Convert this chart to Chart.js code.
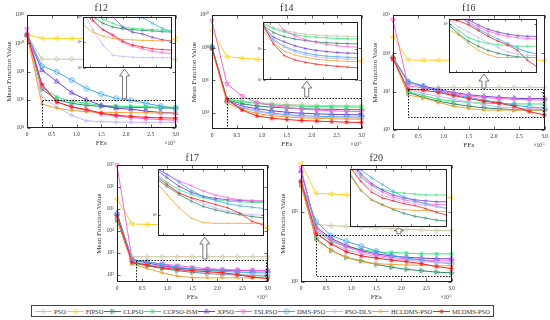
<!DOCTYPE html>
<html>
<head>
<meta charset="utf-8">
<script src="https://cdn.jsdelivr.net/npm/chart.js@4.4.0/dist/chart.umd.min.js"></script>
<style>
  html, body { margin: 0; padding: 0; background: #fff; }
  body { width: 550px; height: 320px; position: relative; overflow: hidden; font-family: "Liberation Serif", serif; }
  canvas { position: absolute; }
  #legend { position: absolute; left: 31px; top: 305px; width: 463px; height: 12px; border: 1px solid #444;
            box-sizing: border-box; display: flex; align-items: center; justify-content: space-between;
            padding: 0 3px; background: #fff; font-size: 6.5px; color: #333; }
  #legend span.item { display: flex; align-items: center; white-space: nowrap; }
  #legend canvas { position: static; margin-right: 2px; }
</style>
</head>
<body>
<div id="legend"></div>
<script>
// FEs axis (x 10^5)
const fes = [0, 0.3, 0.6, 0.9, 1.2, 1.5, 1.8, 2.1, 2.4, 2.7, 3.0];
const algorithms = ['PSO', 'FIPSO', 'CLPSO', 'CCPSO-ISM', 'XPSO', 'TSLPSO', 'DMS-PSO', 'PSO-DLS', 'HCLDMS-PSO', 'MLDMS-PSO'];
const colors = ['#c9c5a3', '#ffd21f', '#2e8b66', '#36e87a', '#6f3fd9', '#ff63dc', '#42a7f0', '#c5b7f7', '#f5a030', '#ff2020'];
const markers = ['diamond', 'triLeft', 'triRight', 'asterisk', 'triUp', 'triDown', 'circle', 'plus', 'dot', 'star'];

// log10 of the mean function value, one row per algorithm (same order as above)
const f12 = [
  [10.6, 8.88, 8.87, 8.87, 8.86, 8.86, 8.86, 8.85, 8.85, 8.85, 8.85],
  [10.6, 10.35, 10.34, 10.33, 10.32, 10.31, 10.3, 10.3, 10.3, 10.29, 10.29],
  [10.6, 6.75, 6.0, 5.75, 5.6, 5.53, 5.5, 5.47, 5.45, 5.42, 5.4],
  [10.6, 6.9, 6.2, 5.9, 5.75, 5.6, 5.55, 5.52, 5.5, 5.48, 5.47],
  [10.6, 8.1, 7.3, 6.5, 6.0, 5.6, 5.4, 5.33, 5.2, 5.1, 5.05],
  [11.0, 7.0, 5.85, 5.5, 5.25, 5.0, 4.85, 4.75, 4.65, 4.6, 4.55],
  [10.6, 8.4, 7.97, 7.4, 6.8, 6.4, 6.1, 5.97, 5.75, 5.55, 5.4],
  [10.6, 6.2, 5.5, 4.9, 4.5, 4.45, 4.42, 4.41, 4.4, 4.4, 4.4],
  [10.6, 5.7, 5.4, 5.25, 5.15, 5.12, 5.1, 5.08, 5.07, 5.06, 5.05],
  [10.6, 7.1, 5.85, 5.5, 5.3, 5.05, 4.9, 4.82, 4.75, 4.72, 4.7]
];
const f14 = [
  [8.0, 4.85, 4.72, 4.62, 4.55, 4.5, 4.47, 4.45, 4.44, 4.43, 4.42],
  [9.04, 7.44, 7.35, 7.28, 7.25, 7.23, 7.21, 7.2, 7.19, 7.18, 7.18],
  [8.0, 4.78, 4.55, 4.42, 4.34, 4.29, 4.25, 4.22, 4.2, 4.19, 4.18],
  [8.0, 4.82, 4.68, 4.57, 4.48, 4.43, 4.4, 4.38, 4.36, 4.35, 4.34],
  [8.05, 4.75, 4.4, 4.25, 4.12, 4.03, 3.97, 3.93, 3.9, 3.88, 3.87],
  [9.65, 5.77, 5.03, 4.62, 4.45, 4.32, 4.23, 4.16, 4.12, 4.09, 4.07],
  [8.05, 4.7, 4.3, 4.1, 3.97, 3.88, 3.82, 3.78, 3.76, 3.74, 3.73],
  [8.0, 4.72, 4.35, 4.08, 3.92, 3.82, 3.76, 3.72, 3.7, 3.68, 3.67],
  [7.95, 4.6, 4.2, 3.95, 3.82, 3.74, 3.68, 3.65, 3.63, 3.61, 3.6],
  [7.95, 4.83, 4.17, 3.8, 3.66, 3.58, 3.52, 3.48, 3.45, 3.42, 3.4]
];
const f16 = [
  [3.87, 3.2, 3.12, 3.11, 3.11, 3.11, 3.11, 3.11, 3.11, 3.11, 3.11],
  [4.43, 3.83, 3.82, 3.82, 3.82, 3.82, 3.82, 3.82, 3.82, 3.82, 3.82],
  [3.85, 2.98, 2.85, 2.75, 2.68, 2.62, 2.58, 2.55, 2.53, 2.52, 2.52],
  [3.88, 3.0, 2.9, 2.8, 2.75, 2.72, 2.7, 2.69, 2.68, 2.68, 2.68],
  [3.9, 3.26, 3.15, 3.05, 2.98, 2.92, 2.88, 2.85, 2.83, 2.82, 2.82],
  [4.87, 3.15, 3.1, 3.02, 2.95, 2.89, 2.85, 2.82, 2.8, 2.79, 2.78],
  [3.88, 3.26, 3.13, 3.0, 2.92, 2.85, 2.78, 2.72, 2.65, 2.6, 2.57],
  [3.85, 3.05, 2.95, 2.88, 2.8, 2.73, 2.66, 2.6, 2.57, 2.55, 2.55],
  [3.93, 2.91, 2.84, 2.72, 2.62, 2.56, 2.52, 2.52, 2.52, 2.52, 2.52],
  [3.86, 3.06, 3.04, 2.98, 2.9, 2.82, 2.75, 2.7, 2.62, 2.48, 2.39]
];
const f17 = [
  [4.6, 2.83, 2.83, 2.83, 2.83, 2.83, 2.83, 2.83, 2.83, 2.83, 2.83],
  [5.45, 4.32, 4.3, 4.28, 4.25, 4.22, 4.2, 4.18, 4.17, 4.16, 4.15],
  [4.5, 2.55, 2.42, 2.3, 2.2, 2.12, 2.07, 2.03, 2.0, 1.97, 1.95],
  [4.55, 2.62, 2.48, 2.37, 2.3, 2.25, 2.22, 2.2, 2.19, 2.18, 2.18],
  [4.82, 2.68, 2.55, 2.42, 2.33, 2.27, 2.24, 2.22, 2.21, 2.2, 2.2],
  [7.0, 2.7, 2.6, 2.5, 2.43, 2.35, 2.29, 2.25, 2.22, 2.21, 2.2],
  [4.75, 2.7, 2.6, 2.48, 2.36, 2.27, 2.21, 2.16, 2.13, 2.11, 2.09],
  [4.6, 2.62, 2.45, 2.33, 2.24, 2.16, 2.1, 2.05, 2.02, 2.0, 1.99],
  [4.65, 2.5, 2.3, 2.1, 1.95, 1.88, 1.87, 1.87, 1.87, 1.87, 1.87],
  [4.68, 2.58, 2.45, 2.32, 2.25, 2.2, 2.15, 2.1, 2.02, 1.9, 1.84]
];
const f20 = [
  [3.42, 2.82, 2.8, 2.79, 2.78, 2.77, 2.76, 2.75, 2.74, 2.73, 2.73],
  [3.69, 3.26, 3.25, 3.24, 3.23, 3.22, 3.22, 3.21, 3.21, 3.2, 3.2],
  [3.38, 2.62, 2.45, 2.35, 2.3, 2.25, 2.21, 2.18, 2.16, 2.14, 2.13],
  [3.4, 2.72, 2.58, 2.5, 2.46, 2.43, 2.42, 2.41, 2.4, 2.4, 2.4],
  [3.58, 2.78, 2.62, 2.52, 2.45, 2.4, 2.37, 2.35, 2.34, 2.33, 2.33],
  [3.62, 2.75, 2.6, 2.5, 2.43, 2.38, 2.35, 2.33, 2.31, 2.3, 2.3],
  [3.43, 2.86, 2.66, 2.58, 2.51, 2.44, 2.38, 2.34, 2.31, 2.28, 2.26],
  [3.45, 2.7, 2.55, 2.46, 2.4, 2.36, 2.33, 2.31, 2.29, 2.28, 2.27],
  [3.38, 2.6, 2.45, 2.35, 2.29, 2.26, 2.25, 2.24, 2.24, 2.23, 2.23],
  [3.43, 2.69, 2.54, 2.43, 2.37, 2.34, 2.31, 2.29, 2.26, 2.22, 2.19]
];

// y tick labels (powers of ten) per panel
const f12Ticks = [1e4, 1e6, 1e8, 1e10, 1e12];
const f14Ticks = [1e4, 1e6, 1e8, 1e10];
const f16Ticks = [1e2, 1e3, 1e4, 1e5];
const f17Ticks = [1e2, 1e3, 1e4, 1e5, 1e6, 1e7];
const f20Ticks = [1e2, 1e3];

// layout: plot box and inset box in page pixels [left, top, right, bottom]
const panels = [
  { name: 'f12', rows: f12, yTicks: f12Ticks, yRange: [1e4, 1e12], zoomX: [0.3, 3], zoomY: [1e4, 1e6], arrowX: 1.97, box: [27, 15, 176, 128], inset: [83, 15, 175, 68] },
  { name: 'f14', rows: f14, yTicks: f14Ticks, yRange: [1e3, 1e10], zoomX: [0.3, 3], zoomY: [1e3, 8e4], arrowX: 1.9, box: [212, 15, 362, 129], inset: [263, 20, 361, 80] },
  { name: 'f16', rows: f16, yTicks: f16Ticks, yRange: [1e2, 1e5], zoomX: [0.3, 3], zoomY: [200, 1170], arrowX: 1.8, box: [393, 15, 545, 130], inset: [449, 17, 540, 73] },
  { name: 'f17', rows: f17, yTicks: f17Ticks, yRange: [48, 1e7], zoomX: [0.38, 3], zoomY: [48, 480], arrowX: 1.75, box: [117, 165, 268, 282], inset: [158, 167, 267, 236] },
  { name: 'f20', rows: f20, yTicks: f20Ticks, yRange: [100, 4600], zoomX: [0.3, 3], zoomY: [117, 470], arrowX: 1.95, box: [301, 165, 452, 282], inset: [350, 167, 450, 227] }
];

const FONT = '"Liberation Serif", "Times New Roman", serif';
const INK = '#333';
const SUP = '⁰¹²³⁴⁵⁶⁷⁸⁹';
const sup = n => String(n).split('').map(d => SUP[+d]).join('');
const pow10Label = v => '10' + sup(Math.round(Math.log10(v)));

function markerImg(kind, color, r) {
  const s = Math.ceil(2 * r + 4);
  const c = document.createElement('canvas');
  c.width = s; c.height = s;
  const g = c.getContext('2d');
  g.translate(s / 2, s / 2);
  g.strokeStyle = color; g.fillStyle = color;
  g.lineWidth = r > 2 ? 0.9 : 0.6;
  const tri = a => {
    g.beginPath();
    for (let k = 0; k < 3; k++) {
      const t = a + k * 2 * Math.PI / 3;
      g.lineTo(r * Math.cos(t), r * Math.sin(t));
    }
    g.closePath(); g.stroke();
  };
  switch (kind) {
    case 'diamond':
      g.beginPath(); g.moveTo(0, -r); g.lineTo(r * 0.75, 0); g.lineTo(0, r); g.lineTo(-r * 0.75, 0); g.closePath(); g.stroke(); break;
    case 'triLeft': tri(Math.PI); break;
    case 'triRight': tri(0); break;
    case 'triUp': tri(-Math.PI / 2); break;
    case 'triDown': tri(Math.PI / 2); break;
    case 'circle': g.beginPath(); g.arc(0, 0, r * 0.9, 0, Math.PI * 2); g.stroke(); break;
    case 'plus':
      g.beginPath(); g.moveTo(-r, 0); g.lineTo(r, 0); g.moveTo(0, -r); g.lineTo(0, r); g.stroke(); break;
    case 'asterisk':
      g.beginPath();
      for (let k = 0; k < 4; k++) {
        const t = k * Math.PI / 4, d = r * 0.85;
        g.moveTo(-d * Math.cos(t), -d * Math.sin(t)); g.lineTo(d * Math.cos(t), d * Math.sin(t));
      }
      g.stroke(); break;
    case 'dot': g.beginPath(); g.arc(0, 0, r * 0.55, 0, Math.PI * 2); g.fill(); break;
    case 'star':
      g.beginPath();
      for (let k = 0; k < 10; k++) {
        const t = -Math.PI / 2 + k * Math.PI / 5, rr = k % 2 ? r * 0.45 : r * 1.1;
        g.lineTo(rr * Math.cos(t), rr * Math.sin(t));
      }
      g.closePath(); g.fill(); break;
  }
  return c;
}

function makeSets(rows, r, bw, clip) {
  return algorithms.map((name, i) => ({
    label: name,
    data: fes.map((fx, j) => ({ x: fx, y: 10 ** rows[i][j] })),
    borderColor: colors[i],
    backgroundColor: colors[i],
    borderWidth: bw,
    pointStyle: markerImg(markers[i], colors[i], r),
    pointRadius: r + 1,
    tension: 0,
    clip: clip,
    order: algorithms.length - i
  }));
}

function addCanvas(left, top, w, h) {
  const cv = document.createElement('canvas');
  cv.width = w; cv.height = h;
  cv.style.left = left + 'px'; cv.style.top = top + 'px';
  cv.style.width = w + 'px'; cv.style.height = h + 'px';
  document.body.appendChild(cv);
  return cv;
}

function hollowArrow(ctx, x, yBase, yTip) {
  const len = yBase - yTip;
  const head = Math.min(7, len * 0.5);
  ctx.beginPath();
  ctx.moveTo(x - 2, yBase);
  ctx.lineTo(x - 2, yTip + head);
  ctx.lineTo(x - 5, yTip + head);
  ctx.lineTo(x, yTip);
  ctx.lineTo(x + 5, yTip + head);
  ctx.lineTo(x + 2, yTip + head);
  ctx.lineTo(x + 2, yBase);
  ctx.closePath();
  ctx.fillStyle = '#fff'; ctx.fill();
  ctx.strokeStyle = '#555'; ctx.lineWidth = 0.8; ctx.stroke();
}

function drawFrame(ctx, a, xs, xTickVals, ys, yTickVals, len) {
  ctx.strokeStyle = '#222'; ctx.lineWidth = 1; ctx.setLineDash([]);
  const L = Math.round(a.left) + 0.5, T = Math.round(a.top) + 0.5;
  const R = Math.round(a.right) - 0.5, B = Math.round(a.bottom) - 0.5;
  ctx.strokeRect(L, T, R - L, B - T);
  ctx.lineWidth = 0.7;
  ctx.beginPath();
  xTickVals.forEach(v => {
    const px = Math.round(xs.getPixelForValue(v)) + 0.5;
    ctx.moveTo(px, B); ctx.lineTo(px, B - len);
    ctx.moveTo(px, T); ctx.lineTo(px, T + len);
  });
  yTickVals.forEach(v => {
    const py = Math.round(ys.getPixelForValue(v)) + 0.5;
    ctx.moveTo(L, py); ctx.lineTo(L + len, py);
    ctx.moveTo(R, py); ctx.lineTo(R - len, py);
  });
  ctx.stroke();
}

function mainChart(p) {
  const [l, t, r, b] = p.box;
  const cv = addCanvas(l - 30, t - 15, r - l + 36, b - t + 37);
  const panelPlugin = {
    id: 'panel',
    afterDatasetsDraw(chart) {
      const { ctx, chartArea: a, scales: { x, y } } = chart;
      ctx.save();
      drawFrame(ctx, a, x, [0, 0.5, 1, 1.5, 2, 2.5, 3], y, p.yTicks, 3);
      // dotted zoom window
      const zx0 = x.getPixelForValue(p.zoomX[0]), zx1 = x.getPixelForValue(p.zoomX[1]);
      const zy0 = y.getPixelForValue(p.zoomY[0]), zy1 = y.getPixelForValue(p.zoomY[1]);
      ctx.strokeStyle = '#111'; ctx.lineWidth = 1; ctx.setLineDash([1.5, 1.5]);
      ctx.strokeRect(Math.round(zx0) + 0.5, Math.round(zy1) + 0.5, Math.round(zx1 - zx0) - 1, Math.round(zy0 - zy1) - 1);
      ctx.setLineDash([]);
      // arrow towards the inset
      hollowArrow(ctx, x.getPixelForValue(p.arrowX), zy1 - 1, p.inset[3] - (t - 15) + 1);
      // texts
      ctx.fillStyle = INK;
      ctx.textAlign = 'center'; ctx.textBaseline = 'middle';
      ctx.font = '10px ' + FONT;
      ctx.fillText(p.name, (a.left + a.right) / 2, a.top - 7);
      ctx.font = '7px ' + FONT;
      ctx.fillText('FEs', (a.left + a.right) / 2, a.bottom + 15);
      ctx.save();
      ctx.translate(a.left - 18, (a.top + a.bottom) / 2);
      ctx.rotate(-Math.PI / 2);
      ctx.fillText('Mean Function Value', 0, 0);
      ctx.restore();
      ctx.textAlign = 'right';
      ctx.font = '4px ' + FONT;
      ctx.fillText('5', a.right, a.bottom + 14);
      ctx.font = '5.5px ' + FONT;
      ctx.fillText('×10', a.right - 2.5, a.bottom + 16);
      ctx.restore();
    }
  };
  new Chart(cv, {
    type: 'line',
    data: { datasets: makeSets(p.rows, 2.6, 1, 4) },
    options: {
      animation: false, responsive: false, events: [],
      layout: { padding: { left: 0, top: 15, right: 6, bottom: 0 } },
      plugins: { legend: { display: false }, tooltip: { enabled: false } },
      scales: {
        x: {
          type: 'linear', min: 0, max: 3,
          afterFit: s => { s.height = 22; },
          grid: { display: false, drawTicks: false, tickLength: 0 }, border: { display: false },
          ticks: { stepSize: 0.5, maxRotation: 0, padding: 3, color: INK, font: { family: FONT, size: 5.5 } }
        },
        y: {
          type: 'logarithmic', min: p.yRange[0], max: p.yRange[1],
          afterFit: s => { s.width = 30; },
          afterBuildTicks: s => { s.ticks = p.yTicks.map(v => ({ value: v })); },
          grid: { display: false, drawTicks: false, tickLength: 0 }, border: { display: false },
          ticks: { padding: 3, color: INK, font: { family: FONT, size: 5.5 }, callback: v => pow10Label(v) }
        }
      }
    },
    plugins: [panelPlugin]
  });
}

function insetChart(p) {
  const [l, t, r, b] = p.inset;
  const cv = addCanvas(l - 14, t - 3, r - l + 16, b - t + 9);
  const isPow = v => Math.abs(Math.log10(v) - Math.round(Math.log10(v))) < 1e-6;
  const insetPlugin = {
    id: 'insetFrame',
    beforeDraw(chart) {
      const { ctx, chartArea: a } = chart;
      ctx.save(); ctx.fillStyle = '#fff';
      ctx.fillRect(a.left, a.top, a.width, a.height);
      ctx.restore();
    },
    afterDatasetsDraw(chart) {
      const { ctx, chartArea: a, scales: { x, y } } = chart;
      ctx.save();
      const xt = [0.5, 1, 1.5, 2, 2.5].filter(v => v > p.zoomX[0]);
      const yt = y.ticks.map(tk => tk.value).filter(isPow);
      drawFrame(ctx, a, x, xt, y, yt, 2);
      ctx.restore();
    }
  };
  new Chart(cv, {
    type: 'line',
    data: { datasets: makeSets(p.rows, 1.3, 0.8, 0) },
    options: {
      animation: false, responsive: false, events: [],
      layout: { padding: { left: 0, top: 3, right: 2, bottom: 0 } },
      plugins: { legend: { display: false }, tooltip: { enabled: false } },
      scales: {
        x: {
          type: 'linear', min: p.zoomX[0], max: p.zoomX[1],
          afterFit: s => { s.height = 6; },
          grid: { display: false, drawTicks: false, tickLength: 0 }, border: { display: false },
          ticks: { display: false, stepSize: 0.5 }
        },
        y: {
          type: 'logarithmic', min: p.zoomY[0], max: p.zoomY[1],
          afterFit: s => { s.width = 14; },
          grid: { display: false, drawTicks: false, tickLength: 0 }, border: { display: false },
          ticks: { autoSkip: false, padding: 1, color: INK, font: { family: FONT, size: 3.5 }, callback: v => isPow(v) ? pow10Label(v) : '' }
        }
      }
    },
    plugins: [insetPlugin]
  });
}

panels.forEach(p => { mainChart(p); insetChart(p); });

// legend
const legend = document.getElementById('legend');
algorithms.forEach((name, i) => {
  const item = document.createElement('span');
  item.className = 'item';
  const sw = document.createElement('canvas');
  sw.width = 17; sw.height = 9;
  const g = sw.getContext('2d');
  g.strokeStyle = colors[i]; g.lineWidth = 1;
  g.beginPath(); g.moveTo(0, 4.5); g.lineTo(17, 4.5); g.stroke();
  const m = markerImg(markers[i], colors[i], 2.6);
  g.drawImage(m, 8.5 - m.width / 2, 4.5 - m.height / 2);
  item.appendChild(sw);
  const label = document.createElement('span');
  label.textContent = name;
  item.appendChild(label);
  legend.appendChild(item);
});
</script>
</body>
</html>
